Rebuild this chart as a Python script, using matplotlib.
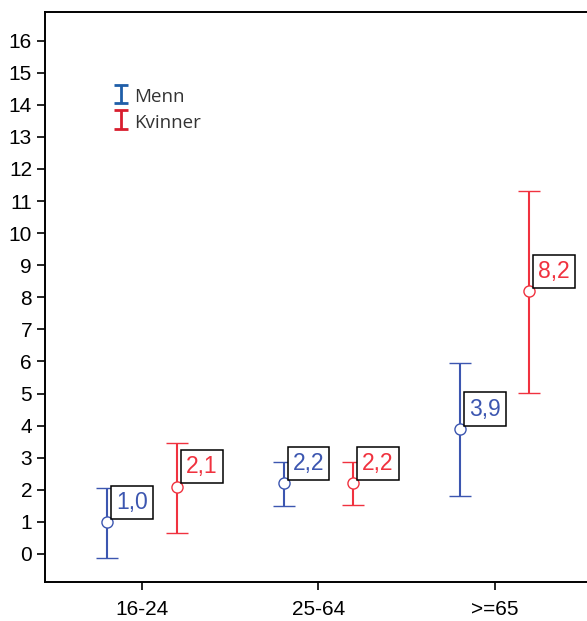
import numpy as np
import matplotlib.pyplot as plt

plt.rcParams['font.family'] = ['Liberation Sans', 'DejaVu Sans']

groups = ['16-24', '25-64', '>=65']
menn = [1.0, 2.2, 3.9]
menn_lo = [-0.12, 1.50, 1.80]
menn_hi = [2.06, 2.87, 5.96]
kvinner = [2.1, 2.2, 8.2]
kvinner_lo = [0.65, 1.53, 5.02]
kvinner_hi = [3.46, 2.87, 11.32]

blue = '#3c56b0'
red = '#f0323f'

fig = plt.figure(figsize=(5.87, 6.21), dpi=100)
ax = fig.add_axes([0.077, 0.063, 0.925, 0.918])

x = np.arange(len(groups))
off = 0.197

def draw(xs, vals, lo, hi, color):
    vals = np.array(vals)
    err = [vals - np.array(lo), np.array(hi) - vals]
    ax.errorbar(xs, vals, yerr=err, fmt='o', mfc='white', mec=color, ms=8,
                mew=1.0, ecolor=color, elinewidth=1.5, capsize=8, capthick=1.5,
                zorder=3)
    for xi, v in zip(xs, vals):
        ax.annotate(f'{v:.1f}'.replace('.', ','), (xi, v), xytext=(6.5, 6),
                    textcoords='offset points', ha='left', va='bottom',
                    fontsize=16.5, color=color, zorder=4,
                    bbox=dict(boxstyle='square,pad=0.22', fc='white', ec='black', lw=1.1))

draw(x - off, menn, menn_lo, menn_hi, blue)
draw(x + off, kvinner, kvinner_lo, kvinner_hi, red)

# legend handles: bare error bars with caps
h1 = ax.errorbar([np.nan], [np.nan], yerr=[1], fmt='none', ecolor='#1f5ea8',
                 elinewidth=2, capsize=5, capthick=2)
h2 = ax.errorbar([np.nan], [np.nan], yerr=[1], fmt='none', ecolor='#d81e2e',
                 elinewidth=2, capsize=5, capthick=2)
leg = ax.legend([h1, h2], ['Menn', 'Kvinner'], loc='upper left',
                bbox_to_anchor=(0.095, 0.9), frameon=False, handlelength=0.8,
                handleheight=1.35, handletextpad=0.3, labelspacing=0.22,
                prop={'family': 'Open Sans', 'size': 13.5})
for t in leg.get_texts():
    t.set_color('#333333')

ax.set_xlim(-0.55, 2.53)
ax.set_ylim(-0.87, 16.9)
ax.set_yticks(range(0, 17))
ax.set_xticks(x)
ax.set_xticklabels(groups)
ax.tick_params(axis='both', labelsize=15, length=6, width=1.2, direction='out')
ax.tick_params(axis='x', pad=7)
for s in ax.spines.values():
    s.set_linewidth(1.4)

fig.savefig('out.png', dpi=100)
